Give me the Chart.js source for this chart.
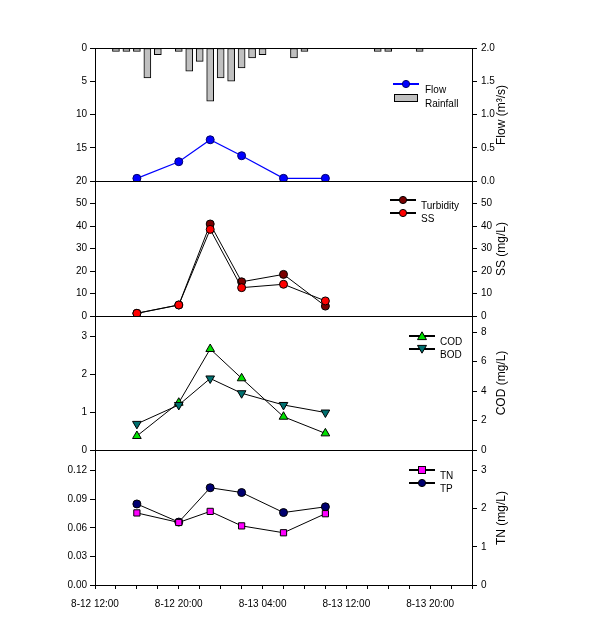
<!DOCTYPE html>
<html>
<head>
<meta charset="utf-8">
<script src="https://cdn.jsdelivr.net/npm/chart.js@4.4.0/dist/chart.umd.min.js"></script>
<style>
  body { margin: 0; background: #fff; width: 604px; height: 630px; position: relative; overflow: hidden;
         font-family: "Liberation Sans", Arial, sans-serif; }
  canvas { position: absolute; left: 0; }
  .ytitle { position: absolute; font-size: 12px; white-space: nowrap; color: #000;
            transform: translate(-50%, -50%) rotate(-90deg); }
  .lg { position: absolute; }
  .lg-text { position: absolute; font-size: 10px; color: #000; white-space: nowrap; transform: translateY(-50%); }
</style>
</head>
<body>
<canvas id="p1" width="604" height="157" style="top:36px"></canvas>
<canvas id="p2" width="604" height="159" style="top:169px"></canvas>
<canvas id="p3" width="604" height="158" style="top:304px"></canvas>
<canvas id="p4" width="604" height="192" style="top:438px"></canvas>
<div id="overlay"></div>
<script>
// ── Data ──────────────────────────────────────────────────────────────────────
// x values are hours after 8-12 12:00
const SAMPLE_HOURS = [4, 8, 11, 14, 18, 22];
const RAIN_HOURS   = [2, 3, 4, 5, 6, 8, 9, 10, 11, 12, 13, 14, 15, 16, 19, 20, 27, 28, 31];
const RAINFALL     = [0.5, 0.5, 0.5, 4.5, 1.0, 0.5, 3.5, 2.0, 8.0, 4.5, 5.0, 3.0, 1.5, 1.0, 1.5, 0.5, 0.5, 0.5, 0.5];
const FLOW         = [0.04, 0.29, 0.62, 0.38, 0.04, 0.04];
const TURBIDITY    = [1.2, 4.9, 40.9, 15.2, 18.5, 4.4];
const SS           = [1.2, 4.9, 38.5, 12.6, 14.1, 6.7];
const COD          = [0.95, 3.21, 6.86, 4.87, 2.26, 1.13];
const BOD          = [0.69, 1.19, 1.89, 1.50, 1.19, 0.99];
const TN           = [1.89, 1.64, 1.93, 1.55, 1.37, 1.87];
const TP           = [0.085, 0.066, 0.102, 0.097, 0.076, 0.082];

const X_TICKS  = [0, 2, 4, 6, 8, 10, 12, 14, 16, 18, 20, 22, 24, 26, 28, 30, 32, 34, 36];
const X_LABELS = { 0: "8-12 12:00", 8: "8-12 20:00", 16: "8-13 04:00", 24: "8-13 12:00", 32: "8-13 20:00" };

const RAIN_TICKS = [0, 5, 10, 15, 20];
const FLOW_TICKS = [0, 0.5, 1, 1.5, 2];
const TURB_TICKS = [0, 10, 20, 30, 40, 50];
const SS_TICKS   = [0, 10, 20, 30, 40, 50];
const BOD_TICKS  = [0, 1, 2, 3];
const COD_TICKS  = [0, 2, 4, 6, 8];
const TP_TICKS   = [0, 0.03, 0.06, 0.09, 0.12];
const TN_TICKS   = [0, 1, 2, 3];

// ── Helpers ───────────────────────────────────────────────────────────────────
const FONT = "'Liberation Sans', Arial, sans-serif";
Chart.defaults.font.family = FONT;
Chart.defaults.color = "#000";

const pts = (xs, ys) => xs.map((x, i) => ({ x, y: ys[i] }));

const frame = {
  id: "frame",
  beforeDatasetsDraw(chart) {
    const { ctx, chartArea: a } = chart;
    ctx.save();
    ctx.strokeStyle = "#000";
    ctx.lineWidth = 1;
    ctx.strokeRect(Math.round(a.left) + 0.5, Math.round(a.top) + 0.5,
                   Math.round(a.right - a.left), Math.round(a.bottom - a.top));
    ctx.restore();
  },
};

function yAxis(pos, min, max, ticks, digits, reverse) {
  return {
    type: "linear", position: pos, min, max, reverse: !!reverse,
    afterFit: s => { s.width = pos === "left" ? 95 : 132; },
    afterBuildTicks: s => { s.ticks = ticks.map(v => ({ value: v })); },
    ticks: { callback: v => Number(v).toFixed(digits), font: { size: 10 }, color: "#000", padding: pos === "left" ? 3 : 4 },
    grid: { drawOnChartArea: false, drawTicks: true, tickLength: 5, color: "#000", lineWidth: 1 },
    border: { display: false },
  };
}

function xAxis(show) {
  return {
    type: "linear", min: 0, max: 36, display: show,
    offset: false,
    afterFit: s => { s.height = show ? 45 : 0; },
    afterBuildTicks: s => { s.ticks = X_TICKS.map(v => ({ value: v })); },
    ticks: { callback: v => X_LABELS[v] || "", autoSkip: false, maxRotation: 0, font: { size: 10 }, color: "#000", padding: 9 },
    grid: { offset: false, drawOnChartArea: false, drawTicks: true, tickLength: 4, color: "#000" },
    border: { display: false },
  };
}

function lineSet(label, data, yAxisID, style) {
  return Object.assign({
    type: "line", label, data, yAxisID, xAxisID: "x",
    borderColor: "#000", borderWidth: 1, tension: 0,
    pointRadius: 4, pointBorderWidth: 1, pointBorderColor: "#000",
  }, style);
}

function makeChart(id, datasets, scales, last) {
  return new Chart(document.getElementById(id), {
    type: "line",
    data: { datasets },
    options: {
      responsive: false, animation: false,
      layout: { padding: { left: 0, right: 0, top: 12, bottom: last ? 0 : 12 } },
      plugins: { legend: { display: false }, tooltip: { enabled: false } },
      scales: Object.assign({ x: xAxis(!!last) }, scales),
    },
    plugins: [frame],
  });
}

// ── Charts ────────────────────────────────────────────────────────────────────
makeChart("p1", [
  lineSet("Flow", pts(SAMPLE_HOURS, FLOW), "yR",
    { borderColor: "#0000ff", borderWidth: 1.2, pointBackgroundColor: "#0000ff", pointBorderColor: "#00006a" }),
  { type: "bar", label: "Rainfall", data: pts(RAIN_HOURS, RAINFALL), yAxisID: "yL", xAxisID: "x",
    backgroundColor: "#c0c0c0", borderColor: "#000", borderWidth: 1, barThickness: 7, borderSkipped: false },
], {
  yL: yAxis("left", 0, 20, RAIN_TICKS, 0, true),
  yR: yAxis("right", 0, 2, FLOW_TICKS, 1),
});

makeChart("p2", [
  lineSet("SS", pts(SAMPLE_HOURS, SS), "yR", { pointBackgroundColor: "#ff0000" }),
  lineSet("Turbidity", pts(SAMPLE_HOURS, TURBIDITY), "yL", { pointBackgroundColor: "#7a0000" }),
], {
  yL: yAxis("left", 0, 60, TURB_TICKS, 0),
  yR: yAxis("right", 0, 60, SS_TICKS, 0),
});

makeChart("p3", [
  lineSet("BOD", pts(SAMPLE_HOURS, BOD), "yL",
    { pointStyle: "triangle", rotation: 180, pointRadius: 5, pointBackgroundColor: "#007070" }),
  lineSet("COD", pts(SAMPLE_HOURS, COD), "yR",
    { pointStyle: "triangle", pointRadius: 5, pointBackgroundColor: "#00e000" }),
], {
  yL: yAxis("left", 0, 3.54, BOD_TICKS, 0),
  yR: yAxis("right", 0, 9.1, COD_TICKS, 0),
});

makeChart("p4", [
  lineSet("TN", pts(SAMPLE_HOURS, TN), "yR",
    { pointStyle: "rect", pointRadius: 4.4, pointBackgroundColor: "#ff00ff" }),
  lineSet("TP", pts(SAMPLE_HOURS, TP), "yL", { pointBackgroundColor: "#000070" }),
], {
  yL: yAxis("left", 0, 0.1416, TP_TICKS, 2),
  yR: yAxis("right", 0, 3.54, TN_TICKS, 0),
}, true);

// ── Axis titles and legends (HTML overlay) ────────────────────────────────────
const TITLES = [
  { text: "Flow (m³/s)", y: 115 },
  { text: "SS (mg/L)",   y: 249 },
  { text: "COD (mg/L)",  y: 383 },
  { text: "TN (mg/L)",   y: 518 },
];

function marker(shape, fill, stroke) {
  if (shape === "circle") return `<circle cx="13" cy="5" r="3.6" fill="${fill}" stroke="${stroke}" stroke-width="1"/>`;
  if (shape === "square") return `<rect x="9.5" y="1.5" width="7" height="7" fill="${fill}" stroke="#000" stroke-width="1"/>`;
  if (shape === "up")     return `<polygon points="13,0.8 17.5,8.6 8.5,8.6" fill="${fill}" stroke="#000" stroke-width="1"/>`;
  if (shape === "down")   return `<polygon points="13,9.2 17.5,1.4 8.5,1.4" fill="${fill}" stroke="#000" stroke-width="1"/>`;
  return "";
}

const LEGENDS = [
  { x: 393, y: 84,  tx: 425, text: "Flow",      line: "#0000ff", shape: "circle", fill: "#0000ff", stroke: "#00006a" },
  { x: 393, y: 98,  tx: 425, text: "Rainfall",  box: true },
  { x: 390, y: 200, tx: 421, text: "Turbidity", line: "#000", shape: "circle", fill: "#7a0000", stroke: "#000" },
  { x: 390, y: 213, tx: 421, text: "SS",        line: "#000", shape: "circle", fill: "#ff0000", stroke: "#000" },
  { x: 409, y: 336, tx: 440, text: "COD",       line: "#000", shape: "up",     fill: "#00e000" },
  { x: 409, y: 349, tx: 440, text: "BOD",       line: "#000", shape: "down",   fill: "#007070" },
  { x: 409, y: 470, tx: 440, text: "TN",        line: "#000", shape: "square", fill: "#ff00ff" },
  { x: 409, y: 483, tx: 440, text: "TP",        line: "#000", shape: "circle", fill: "#000070", stroke: "#000" },
];

const overlay = document.getElementById("overlay");
overlay.innerHTML =
  TITLES.map(t => `<div class="ytitle" style="left:501px;top:${t.y}px">${t.text}</div>`).join("") +
  LEGENDS.map(l => {
    const sym = l.box
      ? `<rect x="1.5" y="1.5" width="23" height="7" fill="#c0c0c0" stroke="#000" stroke-width="1"/>`
      : `<line x1="0" y1="5" x2="26" y2="5" stroke="${l.line}" stroke-width="2"/>` + marker(l.shape, l.fill, l.stroke);
    return `<svg class="lg" width="26" height="10" style="left:${l.x}px;top:${l.y - 5}px">${sym}</svg>` +
           `<div class="lg-text" style="left:${l.tx}px;top:${l.y + 5}px">${l.text}</div>`;
  }).join("");
</script>
</body>
</html>
